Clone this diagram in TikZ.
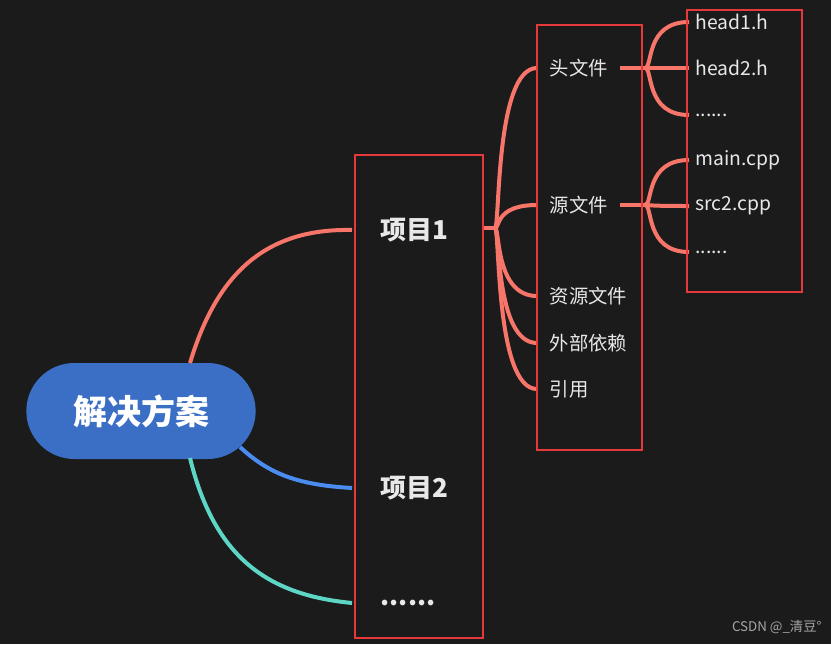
\documentclass[tikz,border=0pt]{standalone}
\usepackage{fontspec}
\setmainfont{Noto Sans CJK SC}
\begin{document}
\definecolor{bg}{HTML}{1B1B1B}
\definecolor{salmon}{HTML}{F8756A}
\definecolor{rootblue}{HTML}{3B6FC6}
\definecolor{linkblue}{HTML}{4A8CF0}
\definecolor{teal}{HTML}{5ED6C6}
\definecolor{boxred}{HTML}{E8393A}
\definecolor{txt}{HTML}{E8E8E8}
\begin{tikzpicture}[x=0.75pt,y=-0.75pt,line width=3pt,
  proj/.style={text=txt,font=\fontsize{19.5}{20}\selectfont\bfseries,anchor=west,inner xsep=20pt},
  sub/.style={text=txt,font=\fontsize{14.5}{16}\selectfont,anchor=west,inner xsep=8pt},
  leaf/.style={text=txt,font=\fontsize{14.5}{16}\selectfont,anchor=west},
  frame/.style={draw=boxred,line width=1.7pt}]
\fill[bg] (0,0) rectangle (831,644);
\useasboundingbox (0,0) rectangle (831,644);
%%%%%%%% root
\node[fill=rootblue,rounded corners=36pt,minimum width=172pt,minimum height=72pt,
  text=white,font=\fontsize{25.5}{27}\selectfont\bfseries](root) at (141,411){解决方案};
%%%%%%%% projects
\node[proj](p1) at (352,230){项目1};
\node[proj](p2) at (352,488){项目2};
\node[proj](p3) at (352,603){......};
\draw[salmon] (190,363) .. controls (215,280) and (260,228) .. (p1.west);
\draw[linkblue] (240,447) .. controls (270,475) and (300,485) .. (p2.west);
\draw[teal] (190,458) .. controls (215,560) and (270,595) .. (p3.west);
%%%%%%%% sub items
\node[sub](head) at (537,68){头文件};
\node[sub](src) at (537,205){源文件};
\node[sub](res) at (537,296){资源文件};
\node[sub](ext) at (537,343){外部依赖};
\node[sub](ref) at (537,389){引用};
\coordinate (p1r) at (495,228);
\draw[salmon] (482,228) -- (p1r);
\foreach \s in {head,src,res,ext,ref}
  \draw[salmon] (p1r) .. controls +(5,0) and (p1r |- \s.west) .. (\s.west);
%%%%%%%% leaves
\node[leaf](h1) at (689,22){head1.h};
\node[leaf](h2) at (689,68){head2.h};
\node[leaf](h3) at (689,115){......};
\node[leaf](s1) at (689,160){main.cpp};
\node[leaf](s2) at (689,206){src2.cpp};
\node[leaf](s3) at (689,252){......};
\coordinate (headr) at (645,68);
\coordinate (srcr) at (645,205);
\draw[salmon] (head.east) -- (headr);
\draw[salmon] (src.east) -- (srcr);
\foreach \l in {h1,h2,h3}
  \draw[salmon] (headr) .. controls +(8,0) and (headr |- \l.west) .. (\l.west);
\foreach \l in {s1,s2,s3}
  \draw[salmon] (srcr) .. controls +(8,0) and (srcr |- \l.west) .. (\l.west);
%%%%%%%% frames
\draw[frame] (355,155) rectangle (483,638);
\draw[frame] (537,25) rectangle (642,450);
\draw[frame] (687,10) rectangle (802,292);
\node[text=gray!70,font=\fontsize{10}{12}\selectfont,anchor=east](mark) at (828,627){CSDN @\_清豆°};
\end{tikzpicture}
\end{document}
